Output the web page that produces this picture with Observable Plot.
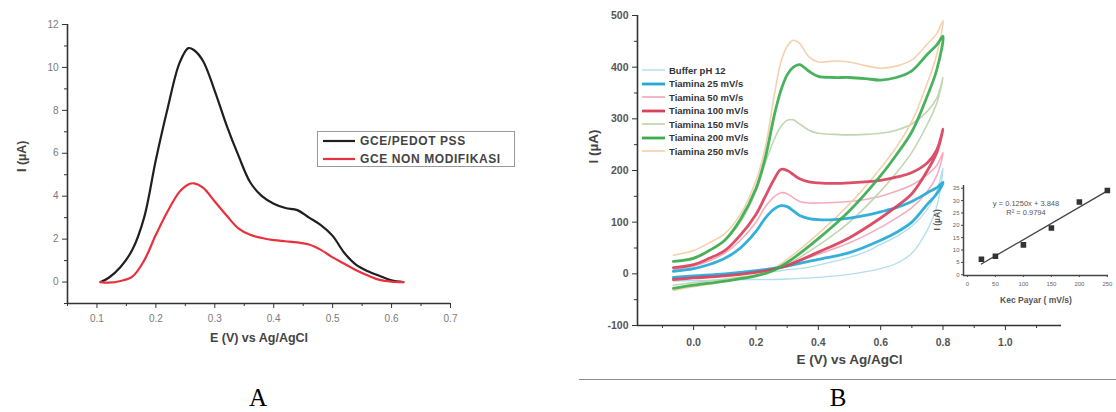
<!DOCTYPE html>
<html><head><meta charset="utf-8">
<script src="https://cdn.jsdelivr.net/npm/d3@7"></script>
<script src="https://cdn.jsdelivr.net/npm/@observablehq/plot@0.6"></script>
<style>
body{margin:0;background:#fff;}
#root{position:relative;width:1116px;height:412px;overflow:hidden;font-family:"Liberation Sans",Arial,sans-serif;}
#root > *{position:absolute;}
</style></head><body><div id="root"></div>
<script>
// ---------------- Panel A data ----------------
const potentialA = [0.106,0.12,0.14,0.16,0.18,0.2,0.22,0.24,0.255,0.265,0.28,0.3,0.32,0.34,0.36,0.38,0.4,0.42,0.44,0.46,0.48,0.5,0.52,0.54,0.56,0.58,0.6,0.62];
const pedotCurrent = [0,0.2,0.7,1.5,3.0,5.7,8.1,10.2,10.9,10.8,10.3,8.9,7.3,5.9,4.65,4.0,3.65,3.45,3.35,3.0,2.65,2.15,1.35,0.8,0.5,0.28,0.08,0];
const nonModCurrent = [0,-0.03,0.05,0.25,1.0,2.2,3.3,4.2,4.55,4.6,4.4,3.75,3.1,2.5,2.2,2.05,1.95,1.9,1.85,1.75,1.5,1.15,0.85,0.55,0.3,0.1,0.02,0];
const seriesA = ["GCE/PEDOT PSS","GCE NON MODIFIKASI"];
const colorsA = ["#1f1f1f","#e8313c"];
const xTicksA = [0.1,0.2,0.3,0.4,0.5,0.6,0.7];
const xTickLabelsA = ["0.1","0.2","0.3","0.4","0.5","0.6","0.7"];
const xMinorA = [0.05,0.15,0.25,0.35,0.45,0.55,0.65];
const yTicksA = [0,2,4,6,8,10,12];
const yMinorA = [-1,1,3,5,7,9,11];

// ---------------- Panel B data (cyclic voltammograms) ----------------
const seriesB = ["Buffer pH 12","Tiamina 25 mV/s","Tiamina 50 mV/s","Tiamina 100 mV/s","Tiamina 150 mV/s","Tiamina 200 mV/s","Tiamina 250 mV/s"];
const colorsB = ["#a9dbea","#22a9d6","#f3a6b9","#d8405c","#bdd3a9","#3aab4e","#f4cda6"];
const widthsB = [1.3,2.8,1.6,2.8,1.6,2.8,1.6];
const eForward = [-0.065,0,0.1,0.2,0.25,0.3,0.4,0.5,0.6,0.65,0.7,0.75,0.78,0.8];
const eReverse = [-0.065,0,0.05,0.1,0.15,0.2,0.23,0.26,0.28,0.3,0.32,0.34,0.37,0.4,0.45,0.5,0.55,0.6,0.65,0.7,0.75,0.78,0.8];
const bufferFwd = [-14,-13,-12,-11,-11,-10,-7,-1,10,20,40,85,130,205];
const bufferRev = [-8,-5,-3,-1,1,2,3,5,6,8,9,10,13,17,24,32,42,57,72,92,125,160,205];
const t25Fwd = [-7,-4,0,6,10,15,28,41,65,80,100,135,155,177];
const t25Rev = [5,10,18,30,50,82,108,126,132,130,122,113,107,105,105,108,113,120,128,140,157,167,177];
const t50Fwd = [-9,-7,-3,5,10,18,38,60,90,108,128,160,190,235];
const t50Rev = [8,15,25,40,65,100,130,150,157,155,147,140,137,137,138,140,144,150,160,172,192,210,235];
const t100Fwd = [-11,-8,-4,3,8,16,42,70,108,130,155,200,235,280];
const t100Rev = [12,18,30,45,75,115,150,185,202,200,192,184,178,176,175,176,178,181,187,196,215,240,280];
const t150Fwd = [-22,-17,-10,-2,6,18,55,100,160,195,235,290,330,380];
const t150Rev = [24,32,45,65,100,160,215,262,285,297,298,290,278,272,270,269,270,272,278,290,315,340,380];
const t200Fwd = [-28,-22,-14,-4,5,22,68,122,190,230,275,345,395,460];
const t200Rev = [24,30,45,65,105,165,225,310,355,385,400,405,392,382,380,380,378,375,380,393,425,443,460];
const t250Fwd = [-32,-25,-15,-3,8,28,78,135,205,245,295,370,425,490];
const t250Rev = [36,45,60,78,115,180,245,350,410,440,452,446,420,410,412,410,403,398,402,414,445,465,490];
const xTicksB = [0,0.2,0.4,0.6,0.8,1.0];
const xTickLabelsB = ["0.0","0.2","0.4","0.6","0.8","1.0"];
const xMinorB = [-0.1,0.1,0.3,0.5,0.7,0.9,1.1];
const yTicksB = [-100,0,100,200,300,400,500];
const yMinorB = [-50,50,150,250,350,450];

// ---------------- Inset data ----------------
const scanRate = [25,50,100,150,200,250];
const peakCurrent = [6.3,7.5,12.1,18.9,29.4,34.1];
const xTicksIn = [0,50,100,150,200,250];
const yTicksIn = [0,5,10,15,20,25,30,35];
const fitEquation = "y = 0.1250x + 3.848";
const fitR2 = "R² = 0.9794";

// ---------------- helpers ----------------
const FONT = "Liberation Sans, Arial, sans-serif";
const root = document.getElementById("root");
function place(el, left, top){ el.style.left = left + "px"; el.style.top = top + "px"; root.appendChild(el); return el; }
const lbl = (ticks, labels) => d => { const i = ticks.findIndex(t => Math.abs(t - d) < 1e-9); return i < 0 ? "" : labels[i]; };

// ---------------- Panel A ----------------
const dataA = [
  ...potentialA.map((e,i)=>({E:e, I:pedotCurrent[i], s:seriesA[0]})),
  ...potentialA.map((e,i)=>({E:e, I:nonModCurrent[i], s:seriesA[1]}))
];
const plotA = Plot.plot({
  width: 470, height: 360, marginLeft: 67, marginRight: 20, marginTop: 24, marginBottom: 57,
  x: {domain: [0.05, 0.7]}, y: {domain: [-1, 12]},
  color: {domain: seriesA, range: colorsA},
  style: {fontFamily: FONT, fontSize: "10px", background: "transparent", overflow: "visible"},
  marks: [
    Plot.axisY({ticks: yTicksA, tickSize: 5, tickPadding: 4, stroke: "#333", fill: "#7a7a7a", label: null, tickFormat: d => String(d)}),
    Plot.axisY({ticks: yMinorA, tickSize: 3, stroke: "#333", label: null, tickFormat: () => ""}),
    Plot.axisX({ticks: xTicksA, tickSize: 5, tickPadding: 6, stroke: "#333", fill: "#7a7a7a", label: null, tickFormat: lbl(xTicksA, xTickLabelsA)}),
    Plot.axisX({ticks: xMinorA, tickSize: 3, stroke: "#333", label: null, tickFormat: () => ""}),
    Plot.ruleX([0.05], {stroke: "#333", strokeWidth: 1.6}),
    Plot.ruleY([-1], {stroke: "#333", strokeWidth: 1.6}),
    Plot.line(dataA, {x: "E", y: "I", z: "s", stroke: "s", strokeWidth: 2.2, curve: "catmull-rom"}),
    Plot.text(["I (µA)"], {text: d => d, frameAnchor: "left", dx: -46, dy: 8, rotate: -90, fontWeight: "bold", fontSize: 12.5, fill: "#444"}),
    Plot.text(["E (V) vs Ag/AgCl"], {text: d => d, frameAnchor: "bottom", dy: 38, fontWeight: "bold", fontSize: 12.5, fill: "#444"})
  ]
});
place(plotA, 0, 0);

// legend A
const legA = document.createElement("div");
legA.style.cssText = "width:196px;height:34px;border:1px solid #9a9a9a;background:#fff;";
seriesA.forEach((name,i)=>{
  const row = document.createElement("div");
  row.style.cssText = `position:absolute;left:4px;top:${3+i*18}px;height:12px;display:flex;align-items:center;white-space:nowrap;`;
  row.innerHTML = `<svg width="34" height="12"><line x1="1" y1="6" x2="33" y2="6" stroke="${colorsA[i]}" stroke-width="2.2"/></svg>`+
    `<span style="margin-left:4px;font:bold 12px ${FONT};letter-spacing:0.6px;color:#444;">${name}</span>`;
  legA.appendChild(row);
});
place(legA, 317, 131);

// label A
const labA = document.createElement("div");
labA.textContent = "A";
labA.style.cssText = "font:25px 'Liberation Serif','Times New Roman',serif;line-height:25px;width:40px;text-align:center;color:#000;";
place(labA, 238, 385);

// ---------------- Panel B ----------------
const fwdB = [bufferFwd,t25Fwd,t50Fwd,t100Fwd,t150Fwd,t200Fwd,t250Fwd];
const revB = [bufferRev,t25Rev,t50Rev,t100Rev,t150Rev,t200Rev,t250Rev];
function cvLoop(k){
  const a = eForward.map((e,i)=>({E:e, I:fwdB[k][i]}));
  const b = eReverse.slice(0,-1).map((e,i)=>({E:e, I:revB[k][i]})).reverse();
  return a.concat(b);
}
const drawOrder = [0,2,4,6,1,3,5];
const plotB = Plot.plot({
  width: 596, height: 380, marginLeft: 117, marginRight: 55, marginTop: 15, marginBottom: 55,
  x: {domain: [-0.18, 1.18]}, y: {domain: [-100, 500]},
  style: {fontFamily: FONT, fontSize: "10.5px", background: "transparent", overflow: "visible"},
  marks: [
    Plot.axisY({ticks: yTicksB, tickSize: 5, tickPadding: 4, stroke: "#333", fill: "#555", fontWeight: "bold", label: null, tickFormat: d => String(d)}),
    Plot.axisY({ticks: yMinorB, tickSize: 3, stroke: "#333", label: null, tickFormat: () => ""}),
    Plot.axisX({ticks: xTicksB, tickSize: 5, tickPadding: 8, stroke: "#333", fill: "#555", fontWeight: "bold", label: null, tickFormat: lbl(xTicksB, xTickLabelsB)}),
    Plot.axisX({ticks: xMinorB, tickSize: 3, stroke: "#333", label: null, tickFormat: () => ""}),
    Plot.ruleX([-0.18], {stroke: "#333", strokeWidth: 1.6}),
    Plot.ruleY([-100], {stroke: "#333", strokeWidth: 1.6}),
    ...drawOrder.map(k => Plot.line(cvLoop(k), {x: "E", y: "I", stroke: colorsB[k], strokeWidth: widthsB[k], strokeOpacity: 0.92, curve: "catmull-rom"})),
    Plot.text(["I (µA)"], {text: d => d, frameAnchor: "left", dx: -44, dy: -7, rotate: -90, fontWeight: "bold", fontSize: 13.5, fill: "#444"}),
    Plot.text(["E (V) vs Ag/AgCl"], {text: d => d, frameAnchor: "bottom", dy: 38, fontWeight: "bold", fontSize: 13.5, fill: "#444"})
  ]
});
place(plotB, 520, 0);

// legend B
const legB = document.createElement("div");
legB.style.cssText = "width:130px;height:96px;";
seriesB.forEach((name,i)=>{
  const row = document.createElement("div");
  row.style.cssText = `position:absolute;left:0;top:${i*13.5}px;height:12px;display:flex;align-items:center;white-space:nowrap;`;
  row.innerHTML = `<svg width="24" height="12"><line x1="0" y1="6" x2="23" y2="6" stroke="${colorsB[i]}" stroke-width="${widthsB[i]}"/></svg>`+
    `<span style="margin-left:3px;font:bold 9.5px ${FONT};color:#333;">${name}</span>`;
  legB.appendChild(row);
});
place(legB, 642, 64);

// inset
const plotIn = Plot.plot({
  width: 216, height: 140, marginLeft: 63, marginRight: 8, marginTop: 10, marginBottom: 40,
  x: {domain: [-7, 252]}, y: {domain: [-0.3, 36.1]},
  style: {fontFamily: FONT, fontSize: "6px", background: "transparent", overflow: "visible"},
  marks: [
    Plot.axisY({ticks: yTicksIn, tickSize: 2, tickPadding: 2, stroke: "#444", fill: "#666", label: null, tickFormat: d => String(d)}),
    Plot.axisX({ticks: xTicksIn, tickSize: 2, tickPadding: 4, stroke: "#444", fill: "#666", label: null, tickFormat: d => String(d)}),
    Plot.ruleX([-7], {stroke: "#444", strokeWidth: 1.5}),
    Plot.ruleY([-0.3], {stroke: "#444", strokeWidth: 1.5}),
    Plot.linearRegressionY({length: scanRate.length}, {x: scanRate, y: peakCurrent, stroke: "#444", strokeWidth: 1.3, ci: 0}),
    Plot.dot({length: scanRate.length}, {x: scanRate, y: peakCurrent, symbol: "square", r: 2.3, fill: "#333", stroke: "#333"}),
    Plot.text([fitEquation], {text: d => d, frameAnchor: "top", dx: -10, dy: 15, fontSize: 7.5, fill: "#555"}),
    Plot.text([fitR2], {text: d => d, frameAnchor: "top", dx: -10, dy: 24, fontSize: 7.5, fill: "#555"}),
    Plot.text(["I (µA)"], {text: d => d, frameAnchor: "left", dx: -26, rotate: -90, fontWeight: "bold", fontSize: 8.5, fill: "#555"}),
    Plot.text(["Kec Payar ( mV/s)"], {text: d => d, frameAnchor: "bottom", dy: 27, fontWeight: "bold", fontSize: 8.5, fill: "#555"})
  ]
});
place(plotIn, 900, 175);

// rule under panel B and label B
const ruleB = document.createElement("div");
ruleB.style.cssText = "width:537px;height:0;border-top:1.5px solid #8c8c8c;";
place(ruleB, 579, 379);
const labB = document.createElement("div");
labB.textContent = "B";
labB.style.cssText = "font:25px 'Liberation Serif','Times New Roman',serif;line-height:25px;width:40px;text-align:center;color:#000;";
place(labB, 818, 385);
</script></body></html>
